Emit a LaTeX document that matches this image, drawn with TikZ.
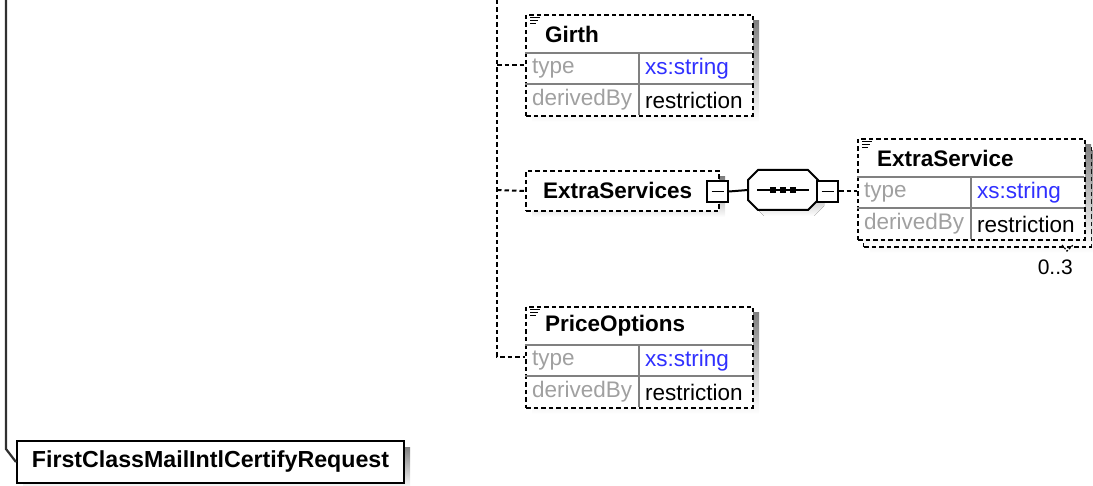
\documentclass[tikz,border=0pt]{standalone}
\usepackage{fontspec}
\setmainfont{Liberation Sans}
\definecolor{shade}{HTML}{C0C0C0}
\definecolor{lbl}{HTML}{A0A0A0}
\definecolor{xsblue}{HTML}{3030FF}
\definecolor{sepcol}{HTML}{808080}
\definecolor{treeline}{HTML}{303030}
\tikzset{
 dbox/.style={draw=black, line width=2pt, dash pattern=on 4.5pt off 3pt, fill=white, inner sep=0, anchor=north west},
 sbox/.style={draw=black, line width=2pt, fill=white, inner sep=0},
 conn/.style={line width=2pt, dash pattern=on 4.5pt off 3pt},
 hdr/.style={font=\fontsize{22.5}{27}\selectfont\bfseries, anchor=west, inner sep=0},
 lab/.style={font=\fontsize{22.5}{27}\selectfont, text=lbl, anchor=west, inner sep=0},
 val/.style={font=\fontsize{22.5}{27}\selectfont, anchor=west, inner sep=0},
 rowsep/.style={draw=sepcol, line width=1.5pt},
 minusbox/.style={draw=black, line width=2.2pt, fill=white, minimum size=21pt, inner sep=0},
}
\newcommand{\xsdElem}[4]{%
 \fill[shade] ({#2+7},{#3+7}) rectangle ({#2+234},{#3+108});
 \node[dbox, minimum width=227pt, minimum height=101pt] (#1) at (#2,#3) {};
 \draw[rowsep] ({#2},{#3+39}) -- ({#2+227},{#3+39});
 \draw[rowsep] ({#2},{#3+70}) -- ({#2+227},{#3+70});
 \draw[rowsep] ({#2+114},{#3+39}) -- ({#2+114},{#3+101});
 \draw[line width=1.4pt] ({#2+5},{#3+3.5}) -- ++(10,0) ({#2+5},{#3+6.5}) -- ++(8,0) ({#2+5},{#3+9.5}) -- ++(6,0);
 \node[hdr] (#1-t) at ({#2+20},{#3+20}) {#4};
 \node[lab] (#1-a) at ({#2+7},{#3+55}) {type};
 \node[val, text=xsblue] (#1-b) at ({#2+120},{#3+55}) {xs:string};
 \node[lab] (#1-c) at ({#2+7},{#3+86}) {derivedBy};
 \node[val] (#1-d) at ({#2+120},{#3+86}) {restriction};
}
\begin{document}
\begin{tikzpicture}[x=1pt,y=-1pt]
\useasboundingbox (0,0) rectangle (1093,486);

% root element
\fill[shade] (23,447) rectangle (410,489);
\node[sbox, minimum width=387pt, minimum height=42pt, anchor=north west] (root) at (16,440) {};
\node[font=\fontsize{23.2}{28}\selectfont\bfseries, inner sep=0] (rootlbl) at (root.center) {FirstClassMailIntlCertifyRequest};
\coordinate (ltop) at (6,0);
\coordinate (lbend) at (6,449);
\draw[line width=2.2pt, draw=treeline] (ltop) -- (lbend) -- (root.west);

% child elements
\xsdElem{girth}{525}{14}{Girth}
\xsdElem{po}{525}{306}{PriceOptions}

% ExtraServices
\fill[shade] (532,177) rectangle (725,217);
\node[dbox, minimum width=193pt, minimum height=40pt] (xs) at (525,170) {};
\node[hdr] (xslbl) at (543,190) {ExtraServices};
\node[minusbox] (m1) at (717.5,191.5) {};
\draw[line width=1.4pt] ([xshift=-6pt]m1.center) -- ([xshift=6pt]m1.center);

% sequence compositor
\fill[shade] (754,186) -- (764,176) -- (814,176) -- (824,186) -- (824,206) -- (814,216) -- (764,216) -- (754,206) -- cycle;
\node[minimum width=70pt, minimum height=40pt, inner sep=0] (seq) at (783,190) {};
\draw[line width=2pt, fill=white] (748,180) -- (758,170) -- (808,170) -- (818,180) -- (818,200) -- (808,210) -- (758,210) -- (748,200) -- cycle;
\draw[line width=1.6pt] (757,190) -- (809,190);
\fill (770,187) rectangle ++(6,6);
\fill (780,187) rectangle ++(6,6);
\fill (790,187) rectangle ++(6,6);
\node[minusbox] (m2) at (827.5,191.5) {};
\draw[line width=1.4pt] ([xshift=-6pt]m2.center) -- ([xshift=6pt]m2.center);
\draw[line width=2pt] (m1.east) -- (seq.west);

% ExtraService (multiple)
\fill[shade] (870,151) rectangle (1093,253);
\node[dbox, minimum width=227pt, minimum height=101pt] (esback) at (863,145) {};
\xsdElem{es}{857}{138}{ExtraService}
\draw[line width=1.2pt, dash pattern=on 2pt off 1.5pt] (1062,245) -- (1067,251) -- (1073,245);
\node[val, font=\fontsize{21}{25}\selectfont, anchor=east] (mult) at (1073,267) {0..3};
\draw[conn] (m2.east) -- (m2.east -| es.west);

% connectors of the sequence
\coordinate (vtop) at (497,0);
\coordinate (vbot) at (497,357);
\coordinate (jg) at (497,65);
\coordinate (jx) at (497,190);
\draw[conn] (vtop) -- (vbot) -- (vbot -| po.west);
\draw[conn] (jg) -- (jg -| girth.west);
\draw[conn] (jx) -- (xs.west);
\end{tikzpicture}
\end{document}
